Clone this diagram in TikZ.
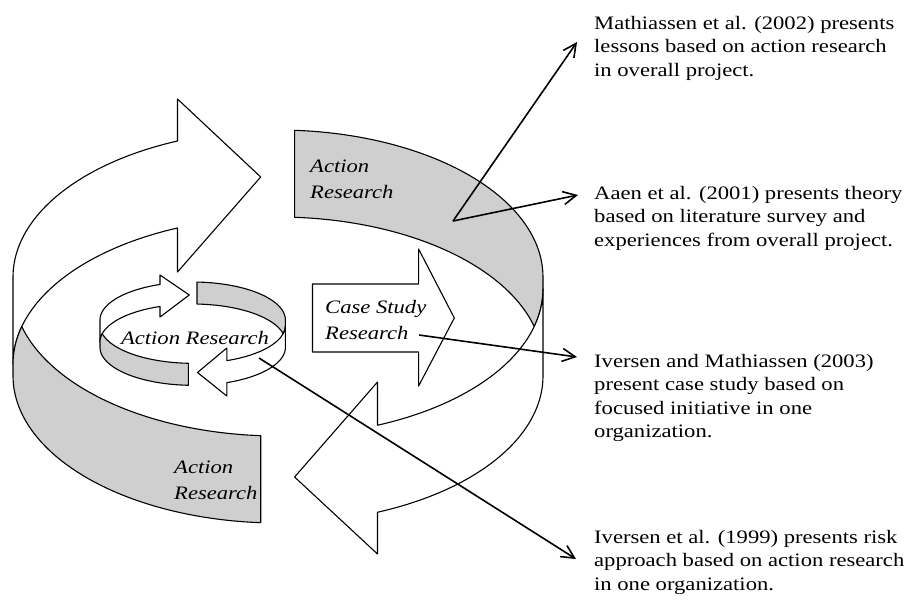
\documentclass[tikz,border=0pt]{standalone}
\usepackage{fontspec}
\setmainfont{Liberation Serif}[FakeStretch=1.19]
\usetikzlibrary{arrows.meta}

\definecolor{bandgrey}{gray}{0.81}

\begin{document}
\begin{tikzpicture}[x=1pt, y=-1pt,
    band/.style={line width=1.1pt, line join=round, fill=white},
    greyband/.style={band, fill=bandgrey},
    link/.style={line width=1.6pt, -{Straight Barb[length=13pt, width=13pt, line width=1.6pt]}},
    lbl/.style={font=\itshape\fontsize{19}{26}\selectfont, align=left, inner sep=0pt, anchor=base west},
    ref/.style={font=\fontsize{19}{23.5}\selectfont, align=left, inner sep=0pt, anchor=base west}]
	\useasboundingbox (0,0) rectangle (909,603);

	% big spiral
	\draw [band] plot [domain=180:112.29, samples=50] ({278+265*cos(\x)}, {277-147*sin(\x)})
		-- (177.5,99) -- (260.7,177) -- (177.5,272)
		-- plot [domain=112.29:180, samples=50] ({278+265*cos(\x)}, {364-147*sin(\x)}) -- cycle;
	\draw [greyband] plot [domain=86.41:0, samples=50] ({278+265*cos(\x)}, {277-147*sin(\x)})
		-- plot [domain=360:345.22, samples=10] ({278+265*cos(\x)}, {289-147*sin(\x)})
		-- plot [domain=14.78:86.41, samples=50] ({278+265*cos(\x)}, {364-147*sin(\x)}) -- cycle;
	\draw [band] plot [domain=360:292.06, samples=50] ({278+265*cos(\x)}, {289-147*sin(\x)})
		-- (377.5,382) -- (294.6,477) -- (377.5,554)
		-- plot [domain=292.06:360, samples=50] ({278+265*cos(\x)}, {376-147*sin(\x)}) -- cycle;
	\draw [greyband] plot [domain=194.78:266.26, samples=50] ({278+265*cos(\x)}, {289-147*sin(\x)})
		-- plot [domain=266.26:180, samples=50] ({278+265*cos(\x)}, {376-147*sin(\x)})
		-- plot [domain=180:165.22, samples=10] ({278+265*cos(\x)}, {364-147*sin(\x)}) -- cycle;

	% small spiral
	\draw [band] plot [domain=180:110.66, samples=40] ({192.7+92.7*cos(\x)}, {320-38*sin(\x)})
		-- (160,275) -- (189.3,295) -- (160,317)
		-- plot [domain=110.66:180, samples=40] ({192.7+92.7*cos(\x)}, {342-38*sin(\x)}) -- cycle;
	\draw [greyband] plot [domain=87.34:0, samples=40] ({192.7+92.7*cos(\x)}, {320-38*sin(\x)})
		-- plot [domain=360:347.31, samples=8] ({192.7+92.7*cos(\x)}, {325.3-38*sin(\x)})
		-- plot [domain=12.69:87.34, samples=40] ({192.7+92.7*cos(\x)}, {342-38*sin(\x)}) -- cycle;
	\draw [band] plot [domain=360:291.59, samples=40] ({192.7+92.7*cos(\x)}, {325.3-38*sin(\x)})
		-- (226.8,348) -- (197.5,372.5) -- (226.8,396)
		-- plot [domain=291.59:360, samples=40] ({192.7+92.7*cos(\x)}, {347.3-38*sin(\x)}) -- cycle;
	\draw [greyband] plot [domain=192.69:267.28, samples=40] ({192.7+92.7*cos(\x)}, {325.3-38*sin(\x)})
		-- plot [domain=267.28:180, samples=40] ({192.7+92.7*cos(\x)}, {347.3-38*sin(\x)})
		-- plot [domain=180:167.31, samples=8] ({192.7+92.7*cos(\x)}, {342-38*sin(\x)}) -- cycle;

	% case study arrow
	\draw [band] (312.5,284) -- (418.6,284) -- (418.6,249) -- (454.3,318)
		-- (418.6,386) -- (418.6,352) -- (312.5,352) -- cycle;

	% labels (base = last line)
	\node [lbl] (arTop) at (310,198) {Action\\Research};
	\node [lbl] (arBottom) at (174,499) {Action\\Research};
	\node [lbl, anchor=base] (arSmall) at (195,344) {Action Research};
	\node [lbl] (caseStudy) at (325,339) {Case Study\\Research};

	\node [ref] (mathiassen) at (594,76) {Mathiassen et al. (2002) presents\\lessons based on action research\\in overall project.};
	\node [ref] (aaen) at (594,246) {Aaen et al. (2001) presents theory\\based on literature survey and\\experiences from overall project.};
	\node [ref] (iversenA) at (594,437.5) {Iversen and Mathiassen (2003)\\present case study based on\\focused initiative in one\\organization.};
	\node [ref] (iversenB) at (594,590) {Iversen et al. (1999) presents risk\\approach based on action research\\in one organization.};

	\coordinate (fork) at (453,221);
	\coordinate (caseTail) at (419,335);
	\coordinate (smallTail) at (259,358);
	\coordinate (tipMath) at (577,42);
	\coordinate (tipAaen) at (578,195);
	\coordinate (tipIvA) at (577,357);
	\coordinate (tipIvB) at (576,559);

	\draw [link] (fork) -- (tipMath);
	\draw [link] (fork) -- (tipAaen);
	\draw [link] (caseTail) -- (tipIvA);
	\draw [link] (smallTail) -- (tipIvB);
\end{tikzpicture}
\end{document}
